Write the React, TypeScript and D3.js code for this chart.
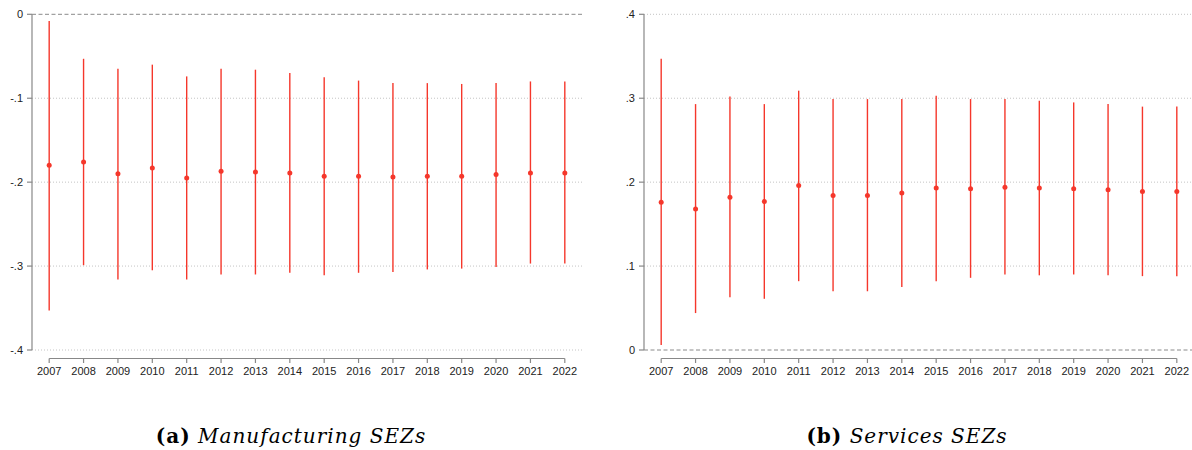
import React from "react";
import * as d3 from "d3";

const years = [2007, 2008, 2009, 2010, 2011, 2012, 2013, 2014, 2015, 2016, 2017, 2018, 2019, 2020, 2021, 2022];

const mfgEst = [-0.180, -0.176, -0.190, -0.183, -0.195, -0.187, -0.188, -0.189, -0.193, -0.193, -0.194, -0.193, -0.193, -0.191, -0.189, -0.189];
const mfgHi = [-0.008, -0.053, -0.065, -0.060, -0.074, -0.065, -0.066, -0.070, -0.075, -0.079, -0.082, -0.082, -0.083, -0.082, -0.080, -0.080];
const mfgLo = [-0.353, -0.299, -0.316, -0.305, -0.316, -0.310, -0.310, -0.308, -0.311, -0.308, -0.307, -0.304, -0.303, -0.301, -0.297, -0.297];

const srvEst = [0.176, 0.168, 0.182, 0.177, 0.196, 0.184, 0.184, 0.187, 0.193, 0.192, 0.194, 0.193, 0.192, 0.191, 0.189, 0.189];
const srvHi = [0.347, 0.293, 0.302, 0.293, 0.309, 0.299, 0.299, 0.299, 0.303, 0.299, 0.299, 0.297, 0.295, 0.293, 0.290, 0.290];
const srvLo = [0.006, 0.044, 0.063, 0.061, 0.082, 0.070, 0.070, 0.075, 0.082, 0.086, 0.090, 0.089, 0.090, 0.089, 0.088, 0.088];

const mfgTicks = [0, -0.1, -0.2, -0.3, -0.4];
const mfgTickLabels = ["0", "-.1", "-.2", "-.3", "-.4"];
const srvTicks = [0.4, 0.3, 0.2, 0.1, 0];
const srvTickLabels = [".4", ".3", ".2", ".1", "0"];

const RED = "#f5372b";
const FONT = "'Liberation Sans', Arial, sans-serif";
const SERIF = "'DejaVu Serif', 'Liberation Serif', serif";

type PanelProps = {
  left: number;
  est: number[];
  hi: number[];
  lo: number[];
  domain: [number, number];
  ticks: number[];
  tickLabels: string[];
  zero: number;
};

function Panel({ left, est, hi, lo, domain, ticks, tickLabels, zero }: PanelProps) {
  const top = 14.3;
  const bottom = 350;
  const width = 550;
  const x = d3.scaleLinear().domain([2006.5, 2022.5]).range([left, left + width]);
  const y = d3.scaleLinear().domain(domain).range([bottom, top]);
  const axisY = bottom + 8.5;
  return (
    <g>
      {ticks.map((t, i) =>
        t === zero ? null : (
          <line key={"g" + i} x1={left} x2={left + width} y1={y(t)} y2={y(t)} stroke="#c4c4c4" strokeWidth={1} strokeDasharray="1,2" />
        )
      )}
      <line x1={left} x2={left + width} y1={y(zero)} y2={y(zero)} stroke="#8a8a8a" strokeWidth={1} strokeDasharray="4,2.5" />
      <line x1={left} x2={left} y1={y(domain[1])} y2={y(domain[0])} stroke="#888" strokeWidth={1.2} />
      {ticks.map((t, i) => (
        <g key={"t" + i}>
          <line x1={left - 5} x2={left} y1={y(t)} y2={y(t)} stroke="#888" strokeWidth={1.2} />
          <text x={left - 9} y={y(t)} dy="0.35em" textAnchor="end" fontFamily={FONT} fontSize={11} fill="#222">
            {tickLabels[i]}
          </text>
        </g>
      ))}
      <line x1={x(years[0])} x2={x(years[years.length - 1])} y1={axisY} y2={axisY} stroke="#888" strokeWidth={1.2} />
      {years.map((yr) => (
        <g key={"x" + yr}>
          <line x1={x(yr)} x2={x(yr)} y1={axisY} y2={axisY + 4.5} stroke="#888" strokeWidth={1.2} />
          <text x={x(yr)} y={axisY + 13} dy="0.35em" textAnchor="middle" fontFamily={FONT} fontSize={11} fill="#222">
            {yr}
          </text>
        </g>
      ))}
      {years.map((yr, i) => (
        <g key={"m" + yr}>
          <line x1={x(yr)} x2={x(yr)} y1={y(hi[i])} y2={y(lo[i])} stroke={RED} strokeWidth={1.4} />
          <circle cx={x(yr)} cy={y(est[i])} r={2.5} fill={RED} />
        </g>
      ))}
    </g>
  );
}

export default function App() {
  return (
    <svg width={1192} height={450} style={{ position: "absolute", left: 0, top: 0, background: "#fff" }}>
      <rect x={0} y={0} width={1192} height={450} fill="#fff" />
      <Panel left={32} est={mfgEst} hi={mfgHi} lo={mfgLo} domain={[-0.4, 0]} ticks={mfgTicks} tickLabels={mfgTickLabels} zero={0} />
      <Panel left={644} est={srvEst} hi={srvHi} lo={srvLo} domain={[0, 0.4]} ticks={srvTicks} tickLabels={srvTickLabels} zero={0} />
      <text x={291} y={443} textAnchor="middle" fontFamily={SERIF} fontSize={20} letterSpacing={1} fill="#000">
        <tspan fontWeight="bold">(a)</tspan>
        <tspan fontStyle="italic"> Manufacturing SEZs</tspan>
      </text>
      <text x={907} y={443} textAnchor="middle" fontFamily={SERIF} fontSize={20} letterSpacing={1} fill="#000">
        <tspan fontWeight="bold">(b)</tspan>
        <tspan fontStyle="italic"> Services SEZs</tspan>
      </text>
    </svg>
  );
}
